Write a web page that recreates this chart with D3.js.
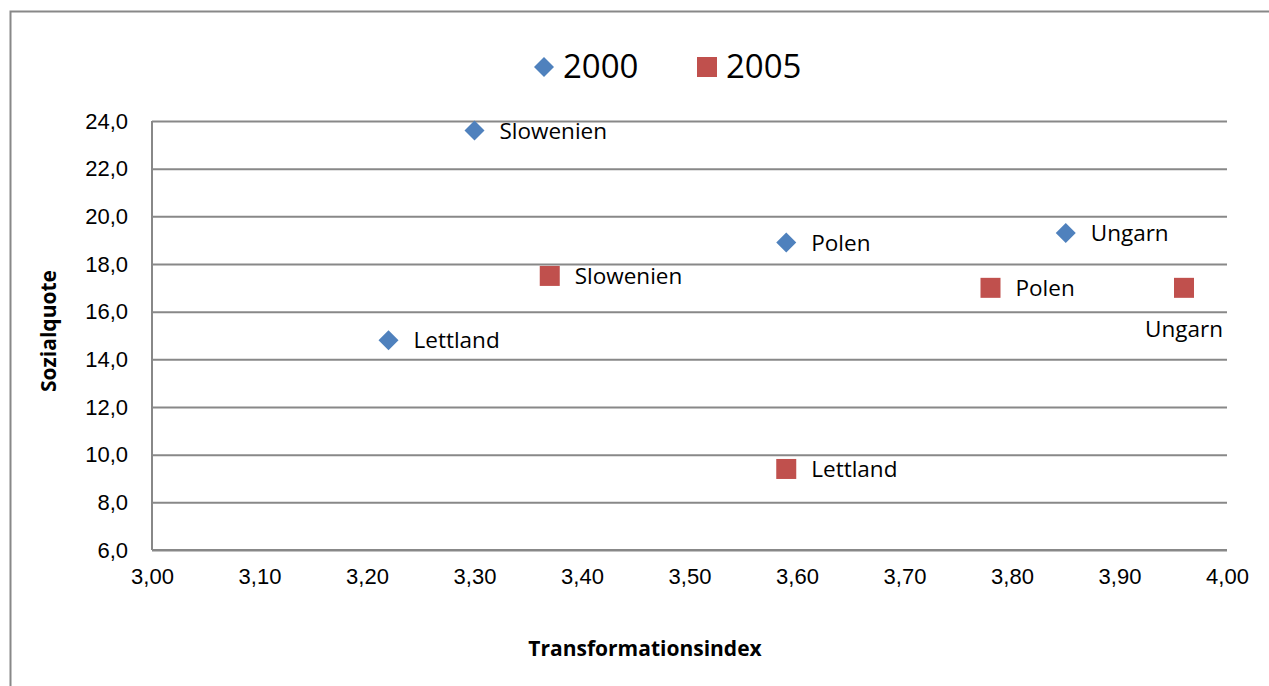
<!DOCTYPE html>
<html lang="de">
<head>
<meta charset="utf-8">
<title>Sozialquote vs Transformationsindex</title>
<script src="https://d3js.org/d3.v7.min.js"></script>
<style>
  body { margin: 0; background: #fff; }
  svg { font-family: "Open Sans", "Noto Sans", sans-serif; }
  .grid line { stroke: #888; stroke-width: 2; }
  .grid path { display: none; }
  .axis path, .axis line { stroke: #888; stroke-width: 2; }
  .axis text { font-size: 22px; fill: #000; }
  .lbl { font-size: 22.5px; fill: #000; }
  .title { font-size: 21px; font-weight: bold; }
</style>
</head>
<body>
<svg width="1269" height="686"></svg>
<script>
// data
var countries = ["Slowenien", "Polen", "Ungarn", "Lettland"];
var index2000 = [3.30, 3.59, 3.85, 3.22];
var quote2000 = [23.6, 18.9, 19.3, 14.8];
var index2005 = [3.37, 3.78, 3.96, 3.59];
var quote2005 = [17.5, 17.0, 17.0, 9.4];
var xTicks = [3.0, 3.1, 3.2, 3.3, 3.4, 3.5, 3.6, 3.7, 3.8, 3.9, 4.0];
var yTicks = [6, 8, 10, 12, 14, 16, 18, 20, 22, 24];

var svg = d3.select("svg");

// outer frame (runs off the picture right and bottom)
svg.append("rect")
  .attr("x", 10.5).attr("y", 11.5)
  .attr("width", 1300).attr("height", 700)
  .attr("fill", "none").attr("stroke", "#888").attr("stroke-width", 2);

var x = d3.scaleLinear().domain([3, 4]).range([152, 1227]);
var y = d3.scaleLinear().domain([6, 24]).range([550, 121]);
var comma = function(f) { return function(d) { return f(d).replace(".", ","); }; };

svg.append("g").attr("class", "grid")
  .attr("transform", "translate(152,0)")
  .call(d3.axisLeft(y).tickValues(yTicks).tickSize(-1075).tickFormat(""));

svg.append("g").attr("class", "axis")
  .attr("transform", "translate(152,0)")
  .call(d3.axisLeft(y).tickValues(yTicks).tickSize(0).tickPadding(24).tickFormat(comma(d3.format(".1f"))))
  .call(function(g) { g.select(".domain").attr("d", "M0,121V550"); });

svg.append("g").attr("class", "axis")
  .attr("transform", "translate(0,550)")
  .call(d3.axisBottom(x).tickValues(xTicks).tickSize(0).tickPadding(18).tickFormat(comma(d3.format(".2f"))))
  .call(function(g) { g.select(".domain").attr("d", "M152,0H1227"); });

svg.append("text").attr("class", "title")
  .attr("transform", "translate(56,331) rotate(-90)")
  .attr("text-anchor", "middle").text("Sozialquote");
svg.append("text").attr("class", "title")
  .attr("x", 645).attr("y", 656)
  .attr("text-anchor", "middle").text("Transformationsindex");

var diamond = d3.symbol().type(d3.symbolSquare).size(200);
var p2000 = countries.map(function(c, i) { return {c: c, x: index2000[i], y: quote2000[i]}; });
var p2005 = countries.map(function(c, i) { return {c: c, x: index2005[i], y: quote2005[i]}; });

svg.selectAll(".d2000").data(p2000).enter().append("path")
  .attr("d", diamond)
  .attr("transform", function(d) { return "translate(" + x(d.x) + "," + y(d.y) + ") rotate(45)"; })
  .attr("fill", "#4f81bd");

svg.selectAll(".d2005").data(p2005).enter().append("rect")
  .attr("x", function(d) { return x(d.x) - 10; })
  .attr("y", function(d) { return y(d.y) - 10; })
  .attr("width", 20).attr("height", 20)
  .attr("fill", "#c0504d");

svg.selectAll(".l2000").data(p2000).enter().append("text")
  .attr("class", "lbl")
  .attr("x", function(d) { return x(d.x) + 25; })
  .attr("y", function(d) { return y(d.y) + 8; })
  .text(function(d) { return d.c; });

svg.selectAll(".l2005").data(p2005).enter().append("text")
  .attr("class", "lbl")
  .attr("text-anchor", function(d) { return d.c === "Ungarn" ? "middle" : "start"; })
  .attr("x", function(d) { return d.c === "Ungarn" ? x(d.x) : x(d.x) + 25; })
  .attr("y", function(d) { return d.c === "Ungarn" ? y(d.y) + 49 : y(d.y) + 8; })
  .text(function(d) { return d.c; });

// legend
var leg = svg.append("g").attr("transform", "translate(0,67)");
leg.append("path").attr("d", diamond)
  .attr("transform", "translate(544,0) rotate(45)").attr("fill", "#4f81bd");
leg.append("text").attr("x", 563).attr("y", 11).attr("font-size", 33).text("2000");
leg.append("rect").attr("x", 697).attr("y", -10).attr("width", 20).attr("height", 20).attr("fill", "#c0504d");
leg.append("text").attr("x", 726).attr("y", 11).attr("font-size", 33).text("2005");
</script>
</body>
</html>
